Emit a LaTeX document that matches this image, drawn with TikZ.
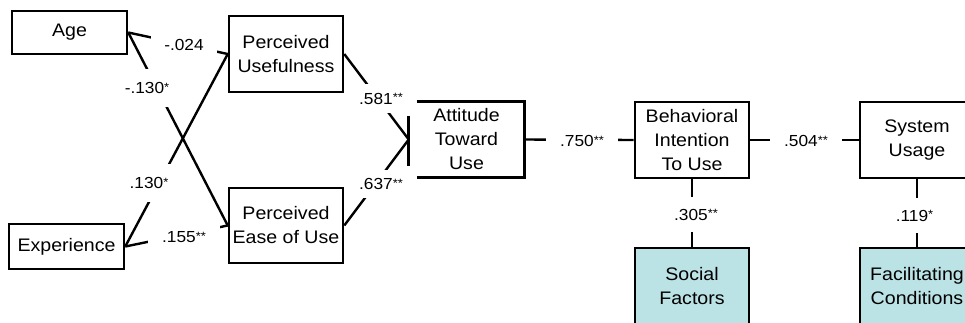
\documentclass[tikz,border=0pt]{standalone}
\usepackage{fontspec}
\setmainfont{Liberation Sans}[FakeStretch=1.08]
\newcommand{\boxfont}{\fontsize{13.6}{18}\selectfont}
\newcommand{\lblfont}{\fontsize{12}{13}\selectfont}
\newcommand{\lblstars}[1]{\raisebox{1.6pt}{\fontsize{9}{9}\selectfont #1}}
\definecolor{factorfill}{RGB}{187,226,229}
\begin{document}
\begin{tikzpicture}[x=0.75pt,y=-0.75pt,
  every node/.style={inner sep=0pt},
  box/.style={draw=black, line width=1.9pt, align=center, font=\boxfont,
    minimum width=85.5pt, minimum height=57pt},
  factor/.style={box, fill=factorfill},
  openbox/.style={align=center, font=\boxfont, minimum width=86.25pt, minimum height=56.25pt},
  boxline/.style={line width=1.9pt},
  conn/.style={line width=1.8pt},
  thinconn/.style={line width=0.8pt},
  lbl/.style={fill=white, font=\lblfont, inner sep=0pt}]
\useasboundingbox (0,0) rectangle (965,322);
\clip (0,0) rectangle (965,322);

% boxes
\node[box, minimum width=86.25pt, minimum height=32.25pt] (age) at (69.5,32.5) {Age};
\node[box, minimum width=86.25pt, minimum height=33.75pt] (exp) at (66.5,246.5) {Experience};
\node[box] (pu) at (286,54) {Perceived\\Usefulness};
\node[box, minimum height=56.25pt] (peou) at (286,225.5) {Perceived\\Ease of Use};
\node[openbox] (atu) at (466.5,139.5) {Attitude\\Toward\\Use};
\draw[boxline] ([xshift=6pt]atu.north west) -- (atu.north east) -- (atu.south east) -- ([xshift=6pt]atu.south west);
\draw[boxline] (atu.west) ++(0,-24) -- ++(0,50);
\node[box] (bi) at (692,140) {Behavioral\\Intention\\To Use};
\node[box] (su) at (917,140) {System\\Usage};
\node[factor] (sf) at (692,286) {Social\\Factors};
\node[factor] (fc) at (917,286) {Facilitating\\Conditions};

% connectors
\draw[conn] (age.east) -- (pu.west);
\draw[conn] (age.east) -- (peou.west);
\draw[conn] (exp.east) -- (pu.west);
\draw[conn] (exp.east) -- (peou.west);
\draw[conn] (pu.east) -- (atu.west);
\draw[conn] (peou.east) -- (atu.west);
\draw[conn] (atu.east) -- (bi.west);
\draw[conn] (bi.east) -- (su.west);
\draw[conn] (bi.south) -- (sf.north);

% labels (white boxes open gaps in the lines)
\node[lbl, minimum width=49.5pt, minimum height=13.5pt] (l1) at (184,45) {-.024};
\node[lbl, minimum width=37.5pt, minimum height=28.5pt] (l2) at (147,88) {-.130\lblstars{*}};
\node[lbl, minimum width=34.5pt, minimum height=28.5pt] (l3) at (149,183) {.130\lblstars{*}};
\node[lbl, minimum width=54pt, minimum height=18pt] (l4) at (184,237) {.155\lblstars{**}};
\node[lbl, minimum width=37.5pt, minimum height=21.75pt] (l5) at (381,98.5) {.581\lblstars{**}};
\node[lbl, minimum width=37.5pt, minimum height=21pt] (l6) at (381,184) {.637\lblstars{**}};
\node[lbl, minimum width=54pt, minimum height=15pt] (l7) at (582,141) {.750\lblstars{**}};
\node[lbl, minimum width=54pt, minimum height=15pt] (l8) at (806,141) {.504\lblstars{**}};
\node[lbl, minimum width=39pt, minimum height=26.25pt] (l9) at (696,214.5) {.305\lblstars{**}};
\node[lbl, minimum width=30pt, minimum height=26.25pt] (l10) at (914.5,215.5) {.119\lblstars{*}};
\draw[conn] (su.south) -- (su.south |- l10.north);
\draw[thinconn] (fc.north |- l10.south) -- (fc.north);
\end{tikzpicture}
\end{document}
